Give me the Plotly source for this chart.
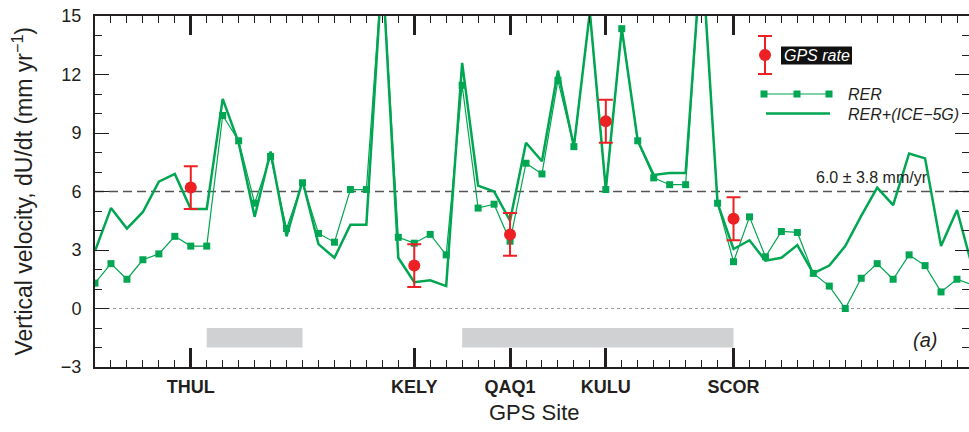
import plotly.graph_objects as go

# ---------------- data ----------------
site_index = list(range(56))
rer = [1.3, 2.3, 1.5, 2.5, 2.8, 3.7, 3.2, 3.2, 9.9, 8.6,
       5.4, 7.8, 4.1, 6.45, 3.85, 3.4, 6.1, 6.1, 17.5, 3.65,
       3.35, 3.8, 2.75, 11.45, 5.15, 5.35, 3.45, 7.45, 6.9, 11.7,
       8.3, 15.2, 6.1, 14.35, 8.6, 6.7, 6.35, 6.35, 18.5, 5.4,
       2.4, 4.7, 2.65, 3.95, 3.9, 1.8, 1.15, 0.0, 1.55, 2.3,
       1.5, 2.75, 2.2, 0.85, 1.5, 1.2]
rer_ice5g = [2.95, 5.15, 4.1, 4.95, 6.5, 6.9, 5.1, 5.1, 10.75, 8.5,
             4.7, 8.05, 3.7, 6.55, 3.3, 2.6, 4.3, 4.3, 17.5, 2.6,
             1.35, 1.45, 1.15, 12.6, 6.3, 6.0, 4.5, 8.5, 7.55, 12.2,
             8.3, 15.2, 6.1, 14.35, 8.6, 6.85, 6.95, 6.95, 18.5, 5.4,
             3.05, 3.5, 2.45, 2.6, 3.25, 1.8, 2.2, 3.2, 4.75, 6.2,
             5.3, 7.95, 7.7, 3.2, 5.05, 2.0]

gps_sites = ["THUL", "KELY", "QAQ1", "KULU", "SCOR"]
gps_index = [6, 20, 26, 32, 40]
gps_rate = [6.2, 2.2, 3.8, 9.6, 4.6]
gps_err = [1.1, 1.1, 1.1, 1.1, 1.1]

mean_rate = 6.0
mean_spread = 3.8

bar_starts = [7, 23]
bar_ends = [13, 40]
bar_low, bar_high = -2.0, -1.0

y_ticks = [-3, 0, 3, 6, 9, 12, 15]

# ---------------- styling ----------------
W, H = 969, 432
L, R, T, B = 95, 0, 16, 65
PW, PH = W - L - R, H - T - B
FONT = "Liberation Sans, Arial, Helvetica, sans-serif"
INK = "#231f20"
GREEN = "#00a651"
RED = "#ed2024"
GRAY = "#d0d1d3"


def px(x):
    return (x - L) / PW


def py(y):
    return (H - B - y) / PH


fig = go.Figure()

fig.add_trace(go.Scatter(
    x=site_index, y=rer_ice5g, mode="lines",
    line=dict(color=GREEN, width=2.5), name="RER+(ICE-5G)", showlegend=False))
fig.add_trace(go.Scatter(
    x=site_index, y=rer, mode="lines+markers",
    line=dict(color=GREEN, width=1.2),
    marker=dict(symbol="square", size=7, color=GREEN),
    name="RER", showlegend=False))
fig.add_trace(go.Scatter(
    x=gps_index, y=gps_rate, mode="markers",
    marker=dict(symbol="circle", size=12, color=RED),
    error_y=dict(type="data", array=gps_err, color=RED, thickness=2, width=7),
    name="GPS rate", showlegend=False))

shapes = []
# gray bars
for s, e in zip(bar_starts, bar_ends):
    shapes.append(dict(type="rect", xref="x", yref="y", x0=s, x1=e, y0=bar_low, y1=bar_high,
                       fillcolor=GRAY, line=dict(width=0), layer="below"))
# zero line
shapes.append(dict(type="line", xref="paper", yref="y", x0=0, x1=1, y0=0, y1=0,
                   line=dict(color="#9a9a9a", width=1, dash="dot"), layer="below"))
# mean line
shapes.append(dict(type="line", xref="paper", yref="y", x0=0, x1=1, y0=mean_rate, y1=mean_rate,
                   line=dict(color="#555555", width=1.5, dash="9px,5px"), layer="below"))

# ---- manual legend ----
def pline(x0, y0, x1, y1, color, width):
    shapes.append(dict(type="line", xref="paper", yref="paper", x0=px(x0), x1=px(x1),
                       y0=py(y0), y1=py(y1), line=dict(color=color, width=width)))

pline(765, 36, 765, 74, RED, 2)
pline(758, 36, 772, 36, RED, 2)
pline(758, 74, 772, 74, RED, 2)
shapes.append(dict(type="circle", xref="paper", yref="paper", x0=px(759), x1=px(771),
                   y0=py(61), y1=py(49), fillcolor=RED, line=dict(width=0)))
shapes.append(dict(type="rect", xref="paper", yref="paper", x0=px(781), x1=px(852),
                   y0=py(64.5), y1=py(46.5), fillcolor="#111111", line=dict(width=0)))
pline(764, 94, 829, 94, GREEN, 1.2)
for cx in (764, 797, 829):
    shapes.append(dict(type="rect", xref="paper", yref="paper", x0=px(cx - 3.5), x1=px(cx + 3.5),
                       y0=py(97.5), y1=py(90.5), fillcolor=GREEN, line=dict(width=0)))
pline(766, 113.5, 830, 113.5, GREEN, 2.5)

annotations = [
    dict(text="<i>GPS rate</i>", xref="paper", yref="paper", x=px(816.5), y=py(55.5),
         showarrow=False, font=dict(family=FONT, size=16, color="white"),
         xanchor="center", yanchor="middle"),
    dict(text="<i>RER</i>", xref="paper", yref="paper", x=px(846), y=py(94.5),
         showarrow=False, font=dict(family=FONT, size=16, color=INK),
         xanchor="left", yanchor="middle"),
    dict(text="<i>RER+(ICE−5G)</i>", xref="paper", yref="paper", x=px(846), y=py(114),
         showarrow=False, font=dict(family=FONT, size=16, color=INK),
         xanchor="left", yanchor="middle"),
    dict(text=f"{mean_rate:.1f} ± {mean_spread:.1f} mm/yr", xref="paper", yref="paper",
         x=px(871.5), y=py(177), showarrow=False,
         font=dict(family=FONT, size=16, color=INK), xanchor="center", yanchor="middle"),
    dict(text="<i>(a)</i>", xref="paper", yref="paper", x=px(925), y=py(340),
         showarrow=False, font=dict(family=FONT, size=20, color=INK),
         xanchor="center", yanchor="middle"),
    dict(text="Vertical velocity, dU/dt (mm yr<sup>−1</sup>)", xref="paper", yref="paper",
         x=px(22), y=py(191.5), textangle=-90, showarrow=False,
         font=dict(family=FONT, size=23, color=INK), xanchor="center", yanchor="middle"),
    dict(text="GPS Site", xref="paper", yref="paper", x=px(534), y=py(412),
         showarrow=False, font=dict(family=FONT, size=22, color=INK),
         xanchor="center", yanchor="middle"),
]

fig.update_layout(
    width=W, height=H,
    margin=dict(l=L, r=R, t=T, b=B, autoexpand=False),
    paper_bgcolor="white", plot_bgcolor="white",
    font=dict(family=FONT, color=INK),
    shapes=shapes, annotations=annotations,
    showlegend=False,
)

fig.update_xaxes(
    range=[0, PW / 15.963], showgrid=False, zeroline=False,
    showline=True, linecolor=INK, linewidth=2, mirror="ticks",
    tickmode="array", tickvals=gps_index, ticktext=[f"<b>{s}</b>" for s in gps_sites],
    ticks="inside", ticklen=19, tickwidth=3, tickcolor=INK,
    tickfont=dict(family=FONT, size=18, color=INK), ticklabelstandoff=2,
    minor=dict(tickmode="linear", tick0=0, dtick=1, ticks="inside", ticklen=7,
               tickwidth=1, tickcolor=INK, showgrid=False),
)
fig.update_yaxes(
    range=[-3, 15], showgrid=False, zeroline=False,
    showline=True, linecolor=INK, linewidth=2, mirror="ticks",
    tickmode="array", tickvals=y_ticks, ticktext=[str(v).replace("-", "−") for v in y_ticks],
    ticks="inside", ticklen=14, tickwidth=1.2, tickcolor=INK,
    tickfont=dict(family=FONT, size=18, color=INK), ticklabelstandoff=8,
    minor=dict(tickmode="linear", tick0=0, dtick=1, ticks="inside", ticklen=7,
               tickwidth=1, tickcolor=INK, showgrid=False),
)

fig.write_html("out.html", config={"displayModeBar": False},
               post_script="document.body.style.margin='0';document.body.style.overflow='hidden';")
